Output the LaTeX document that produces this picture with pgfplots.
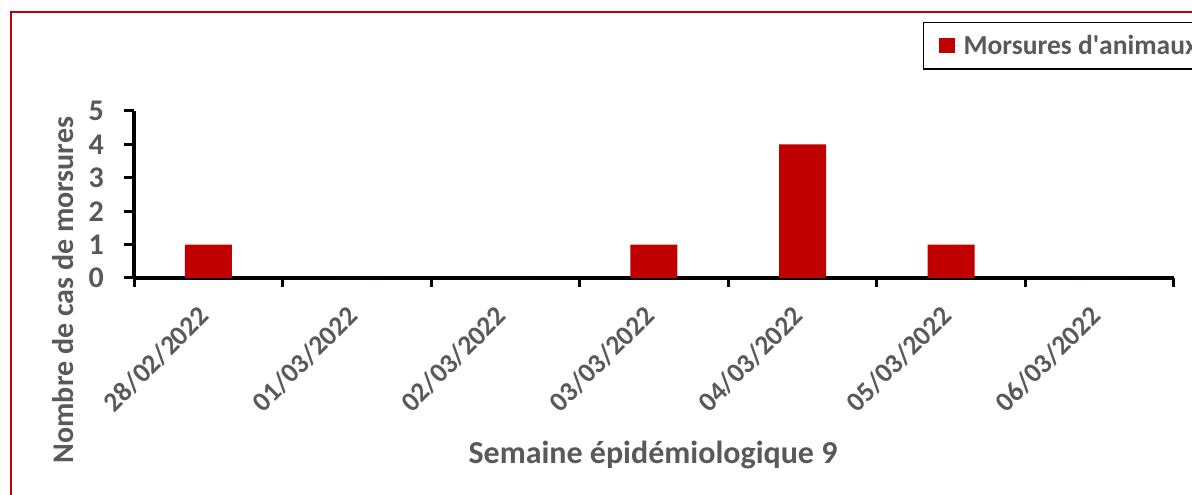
\documentclass[border=0pt]{standalone}
\usepackage{pgfplots}
\pgfplotsset{compat=1.18}
\usepackage{fontspec}
\setmainfont{Carlito}
\definecolor{barred}{HTML}{C00000}
\definecolor{txtgray}{HTML}{595959}
\begin{document}
\begin{tikzpicture}[x=1pt,y=1pt]
\useasboundingbox (0,0) rectangle (1192,495);
\clip (0,0) rectangle (1192,495);
\fill[white] (0,0) rectangle (1192,495);
\draw[barred, line width=2pt] (11,-20) rectangle (1230,483);
\begin{axis}[
  at={(134pt,217pt)}, anchor=south west,
  scale only axis, width=1040pt, height=167pt,
  xmin=-0.5, xmax=6.5, ymin=0, ymax=5,
  axis x line=bottom, axis y line=left,
  axis line style={-, black, line width=3.5pt},
  xtick={0,...,6},
  xticklabels={28/02/2022,01/03/2022,02/03/2022,03/03/2022,04/03/2022,05/03/2022,06/03/2022},
  minor xtick={-0.5,0.5,...,6.5},
  ytick={0,...,5},
  tick align=outside,
  major tick length=10pt,
  minor tick length=9pt,
  major x tick style={draw=none},
  minor x tick style={black, line width=3pt},
  major y tick style={black, line width=3pt},
  /pgf/number format/assume math mode=true,
  tick label style={font=\fontsize{30}{36}\selectfont\bfseries, text=txtgray},
  xticklabel style={font=\fontsize{27.5}{33}\selectfont\bfseries, xshift=-4pt, yshift=-23pt, rotate=45, anchor=east, inner sep=0pt},
  yticklabel style={inner sep=0pt, xshift=-20pt},
  legend style={at={(0.7587,1.535)}, anchor=north west, draw=black, line width=1.2pt,
    font=\fontsize{27.5}{33}\selectfont\bfseries, text=txtgray,
    inner xsep=15pt, inner ysep=11pt},
  legend cell align=left,
]
\addplot[ybar, bar width=47pt, fill=barred, draw=none,
  legend image code/.code={\path (0pt,0pt) -- (23pt,0pt); \fill[barred] (0pt,-7.5pt) rectangle (16pt,7.5pt);}]
  coordinates {(0,1) (1,0) (2,0) (3,1) (4,4) (5,1) (6,0)};
\addlegendentry{Morsures d\textquotesingle animaux}
\end{axis}
\node[rotate=90, font=\fontsize{30}{36}\selectfont\bfseries, text=txtgray] at (63,205) {Nombre de cas de morsures};
\node[font=\fontsize{32}{38}\selectfont\bfseries, text=txtgray] at (653,40) {Semaine épidémiologique 9};
\end{tikzpicture}
\end{document}
